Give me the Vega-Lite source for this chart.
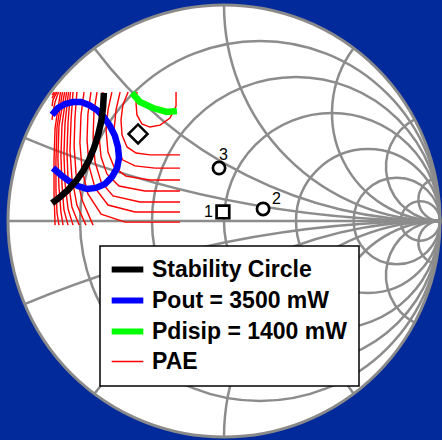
{
 "$schema": "https://vega.github.io/schema/vega-lite/v6.json",
 "width": 432, "height": 432,
 "autosize": {"type": "none"},
 "padding": {"left": 8, "top": 5, "right": 2, "bottom": 3},
 "background": "#032a9b",
 "config": {"view": {"stroke": null}},
 "datasets": {
  "outer": [{"x": 0, "y": 0, "R": 1, "t1": 0, "t2": 360}],
  "grid": [
   {"x": 0.1667, "y": 0, "R": 0.8333, "t1": 0, "t2": 360},
   {"x": 0.3333, "y": 0, "R": 0.6667, "t1": 0, "t2": 360},
   {"x": 0.5, "y": 0, "R": 0.5, "t1": 0, "t2": 360},
   {"x": 0.6667, "y": 0, "R": 0.3333, "t1": 0, "t2": 360},
   {"x": 0.8, "y": 0, "R": 0.2, "t1": 0, "t2": 360},
   {"x": 0.9091, "y": 0, "R": 0.0909, "t1": 0, "t2": 360},
   {"x": 1, "y": 5, "R": 5, "t1": 180, "t2": 202.62},
   {"x": 1, "y": 2, "R": 2, "t1": 180, "t2": 233.13},
   {"x": 1, "y": 1, "R": 1, "t1": 180, "t2": 270},
   {"x": 1, "y": 0.5, "R": 0.5, "t1": 180, "t2": 306.87},
   {"x": 1, "y": 0.25, "R": 0.25, "t1": 180, "t2": 331.93},
   {"x": 1, "y": 0.1, "R": 0.1, "t1": 180, "t2": 348.58},
   {"x": 1, "y": -5, "R": 5, "t1": 337.38, "t2": 360},
   {"x": 1, "y": -2, "R": 2, "t1": 306.87, "t2": 360},
   {"x": 1, "y": -1, "R": 1, "t1": 270, "t2": 360},
   {"x": 1, "y": -0.5, "R": 0.5, "t1": 233.13, "t2": 360},
   {"x": 1, "y": -0.25, "R": 0.25, "t1": 208.07, "t2": 360},
   {"x": 1, "y": -0.1, "R": 0.1, "t1": 191.42, "t2": 360}
  ],
  "axisline": [{"x": -1, "y": 0}, {"x": 1, "y": 0}],
  "pae": [
   {"id": "a", "series": "PAE", "x": -0.222, "y": 0.597}, {"id": "a", "series": "PAE", "x": -0.222, "y": 0.532}, {"id": "a", "series": "PAE", "x": -0.25, "y": 0.477}, {"id": "a", "series": "PAE", "x": -0.296, "y": 0.444}, {"id": "a", "series": "PAE", "x": -0.343, "y": 0.435}, {"id": "a", "series": "PAE", "x": -0.38, "y": 0.449}, {"id": "a", "series": "PAE", "x": -0.403, "y": 0.491}, {"id": "a", "series": "PAE", "x": -0.407, "y": 0.542}, {"id": "a", "series": "PAE", "x": -0.403, "y": 0.597},
   {"id": "b", "series": "PAE", "x": -0.444, "y": 0.597}, {"id": "b", "series": "PAE", "x": -0.468, "y": 0.537}, {"id": "b", "series": "PAE", "x": -0.477, "y": 0.468}, {"id": "b", "series": "PAE", "x": -0.472, "y": 0.398}, {"id": "b", "series": "PAE", "x": -0.449, "y": 0.343}, {"id": "b", "series": "PAE", "x": -0.407, "y": 0.315}, {"id": "b", "series": "PAE", "x": -0.343, "y": 0.306}, {"id": "b", "series": "PAE", "x": -0.273, "y": 0.306}, {"id": "b", "series": "PAE", "x": -0.204, "y": 0.306},
   {"id": "g1", "series": "PAE", "x": -0.481, "y": 0.597}, {"id": "g1", "series": "PAE", "x": -0.5, "y": 0.514}, {"id": "g1", "series": "PAE", "x": -0.509, "y": 0.421}, {"id": "g1", "series": "PAE", "x": -0.5, "y": 0.338}, {"id": "g1", "series": "PAE", "x": -0.468, "y": 0.282}, {"id": "g1", "series": "PAE", "x": -0.412, "y": 0.255}, {"id": "g1", "series": "PAE", "x": -0.319, "y": 0.245}, {"id": "g1", "series": "PAE", "x": -0.204, "y": 0.245},
   {"id": "g2", "series": "PAE", "x": -0.519, "y": 0.597}, {"id": "g2", "series": "PAE", "x": -0.537, "y": 0.514}, {"id": "g2", "series": "PAE", "x": -0.546, "y": 0.421}, {"id": "g2", "series": "PAE", "x": -0.537, "y": 0.319}, {"id": "g2", "series": "PAE", "x": -0.509, "y": 0.25}, {"id": "g2", "series": "PAE", "x": -0.454, "y": 0.208}, {"id": "g2", "series": "PAE", "x": -0.343, "y": 0.19}, {"id": "g2", "series": "PAE", "x": -0.204, "y": 0.19},
   {"id": "g3", "series": "PAE", "x": -0.56, "y": 0.597}, {"id": "g3", "series": "PAE", "x": -0.574, "y": 0.505}, {"id": "g3", "series": "PAE", "x": -0.579, "y": 0.398}, {"id": "g3", "series": "PAE", "x": -0.569, "y": 0.296}, {"id": "g3", "series": "PAE", "x": -0.542, "y": 0.218}, {"id": "g3", "series": "PAE", "x": -0.486, "y": 0.162}, {"id": "g3", "series": "PAE", "x": -0.366, "y": 0.139}, {"id": "g3", "series": "PAE", "x": -0.204, "y": 0.139},
   {"id": "g4", "series": "PAE", "x": -0.588, "y": 0.597}, {"id": "g4", "series": "PAE", "x": -0.602, "y": 0.505}, {"id": "g4", "series": "PAE", "x": -0.606, "y": 0.384}, {"id": "g4", "series": "PAE", "x": -0.597, "y": 0.273}, {"id": "g4", "series": "PAE", "x": -0.569, "y": 0.181}, {"id": "g4", "series": "PAE", "x": -0.514, "y": 0.116}, {"id": "g4", "series": "PAE", "x": -0.389, "y": 0.088}, {"id": "g4", "series": "PAE", "x": -0.204, "y": 0.088},
   {"id": "g5", "series": "PAE", "x": -0.616, "y": 0.597}, {"id": "g5", "series": "PAE", "x": -0.63, "y": 0.495}, {"id": "g5", "series": "PAE", "x": -0.634, "y": 0.375}, {"id": "g5", "series": "PAE", "x": -0.625, "y": 0.255}, {"id": "g5", "series": "PAE", "x": -0.597, "y": 0.153}, {"id": "g5", "series": "PAE", "x": -0.537, "y": 0.074}, {"id": "g5", "series": "PAE", "x": -0.412, "y": 0.042}, {"id": "g5", "series": "PAE", "x": -0.204, "y": 0.042},
   {"id": "g6", "series": "PAE", "x": -0.648, "y": 0.597}, {"id": "g6", "series": "PAE", "x": -0.662, "y": 0.491}, {"id": "g6", "series": "PAE", "x": -0.667, "y": 0.361}, {"id": "g6", "series": "PAE", "x": -0.657, "y": 0.236}, {"id": "g6", "series": "PAE", "x": -0.63, "y": 0.125}, {"id": "g6", "series": "PAE", "x": -0.569, "y": 0.032}, {"id": "g6", "series": "PAE", "x": -0.458, "y": -0.005}, {"id": "g6", "series": "PAE", "x": -0.204, "y": -0.005},
   {"id": "d1", "series": "PAE", "x": -0.681, "y": 0.597}, {"id": "d1", "series": "PAE", "x": -0.69, "y": 0.477}, {"id": "d1", "series": "PAE", "x": -0.694, "y": 0.347}, {"id": "d1", "series": "PAE", "x": -0.685, "y": 0.218}, {"id": "d1", "series": "PAE", "x": -0.657, "y": 0.097}, {"id": "d1", "series": "PAE", "x": -0.606, "y": -0.019},
   {"id": "d2", "series": "PAE", "x": -0.699, "y": 0.597}, {"id": "d2", "series": "PAE", "x": -0.708, "y": 0.468}, {"id": "d2", "series": "PAE", "x": -0.713, "y": 0.329}, {"id": "d2", "series": "PAE", "x": -0.704, "y": 0.199}, {"id": "d2", "series": "PAE", "x": -0.681, "y": 0.074}, {"id": "d2", "series": "PAE", "x": -0.639, "y": -0.019},
   {"id": "d3", "series": "PAE", "x": -0.711, "y": 0.597}, {"id": "d3", "series": "PAE", "x": -0.722, "y": 0.458}, {"id": "d3", "series": "PAE", "x": -0.727, "y": 0.319}, {"id": "d3", "series": "PAE", "x": -0.722, "y": 0.19}, {"id": "d3", "series": "PAE", "x": -0.704, "y": 0.065}, {"id": "d3", "series": "PAE", "x": -0.671, "y": -0.019},
   {"id": "d4", "series": "PAE", "x": -0.72, "y": 0.597}, {"id": "d4", "series": "PAE", "x": -0.736, "y": 0.454}, {"id": "d4", "series": "PAE", "x": -0.741, "y": 0.31}, {"id": "d4", "series": "PAE", "x": -0.736, "y": 0.176}, {"id": "d4", "series": "PAE", "x": -0.722, "y": 0.056}, {"id": "d4", "series": "PAE", "x": -0.699, "y": -0.019},
   {"id": "d5", "series": "PAE", "x": -0.729, "y": 0.597}, {"id": "d5", "series": "PAE", "x": -0.75, "y": 0.444}, {"id": "d5", "series": "PAE", "x": -0.755, "y": 0.301}, {"id": "d5", "series": "PAE", "x": -0.75, "y": 0.167}, {"id": "d5", "series": "PAE", "x": -0.741, "y": 0.051}, {"id": "d5", "series": "PAE", "x": -0.722, "y": -0.019},
   {"id": "d6", "series": "PAE", "x": -0.738, "y": 0.597}, {"id": "d6", "series": "PAE", "x": -0.764, "y": 0.44}, {"id": "d6", "series": "PAE", "x": -0.769, "y": 0.292}, {"id": "d6", "series": "PAE", "x": -0.764, "y": 0.157}, {"id": "d6", "series": "PAE", "x": -0.755, "y": 0.042}, {"id": "d6", "series": "PAE", "x": -0.745, "y": -0.019},
   {"id": "d7", "series": "PAE", "x": -0.748, "y": 0.597}, {"id": "d7", "series": "PAE", "x": -0.773, "y": 0.435}, {"id": "d7", "series": "PAE", "x": -0.778, "y": 0.282}, {"id": "d7", "series": "PAE", "x": -0.778, "y": 0.144}, {"id": "d7", "series": "PAE", "x": -0.773, "y": 0.037}, {"id": "d7", "series": "PAE", "x": -0.764, "y": -0.019},
   {"id": "d8", "series": "PAE", "x": -0.757, "y": 0.597}, {"id": "d8", "series": "PAE", "x": -0.782, "y": 0.431}, {"id": "d8", "series": "PAE", "x": -0.787, "y": 0.282}, {"id": "d8", "series": "PAE", "x": -0.787, "y": 0.134}, {"id": "d8", "series": "PAE", "x": -0.782, "y": -0.019},
   {"id": "d9", "series": "PAE", "x": -0.766, "y": 0.597}, {"id": "d9", "series": "PAE", "x": -0.782, "y": 0.551}, {"id": "d9", "series": "PAE", "x": -0.792, "y": 0.505}, {"id": "d9", "series": "PAE", "x": -0.796, "y": 0.468},
   {"id": "e1", "series": "PAE", "x": -0.773, "y": 0.597}, {"id": "e1", "series": "PAE", "x": -0.792, "y": 0.56}, {"id": "e1", "series": "PAE", "x": -0.796, "y": 0.532},
   {"id": "e2", "series": "PAE", "x": -0.78, "y": 0.597}, {"id": "e2", "series": "PAE", "x": -0.796, "y": 0.569},
   {"id": "e3", "series": "PAE", "x": -0.787, "y": 0.597}, {"id": "e3", "series": "PAE", "x": -0.796, "y": 0.583}
  ],
  "pout": [
   {"series": "Pout = 3500 mW", "x": -0.796, "y": 0.491}, {"series": "Pout = 3500 mW", "x": -0.769, "y": 0.523}, {"series": "Pout = 3500 mW", "x": -0.736, "y": 0.542}, {"series": "Pout = 3500 mW", "x": -0.699, "y": 0.551}, {"series": "Pout = 3500 mW", "x": -0.662, "y": 0.551}, {"series": "Pout = 3500 mW", "x": -0.625, "y": 0.537}, {"series": "Pout = 3500 mW", "x": -0.588, "y": 0.514}, {"series": "Pout = 3500 mW", "x": -0.556, "y": 0.481}, {"series": "Pout = 3500 mW", "x": -0.528, "y": 0.44}, {"series": "Pout = 3500 mW", "x": -0.505, "y": 0.394}, {"series": "Pout = 3500 mW", "x": -0.491, "y": 0.343}, {"series": "Pout = 3500 mW", "x": -0.486, "y": 0.292}, {"series": "Pout = 3500 mW", "x": -0.495, "y": 0.245}, {"series": "Pout = 3500 mW", "x": -0.519, "y": 0.204}, {"series": "Pout = 3500 mW", "x": -0.551, "y": 0.171}, {"series": "Pout = 3500 mW", "x": -0.593, "y": 0.153}, {"series": "Pout = 3500 mW", "x": -0.634, "y": 0.148}, {"series": "Pout = 3500 mW", "x": -0.676, "y": 0.162}, {"series": "Pout = 3500 mW", "x": -0.718, "y": 0.185}, {"series": "Pout = 3500 mW", "x": -0.755, "y": 0.213}, {"series": "Pout = 3500 mW", "x": -0.792, "y": 0.245}
  ],
  "stab": [
   {"series": "Stability Circle", "x": -0.796, "y": 0.083}, {"series": "Stability Circle", "x": -0.759, "y": 0.111}, {"series": "Stability Circle", "x": -0.722, "y": 0.144}, {"series": "Stability Circle", "x": -0.685, "y": 0.185}, {"series": "Stability Circle", "x": -0.653, "y": 0.231}, {"series": "Stability Circle", "x": -0.625, "y": 0.282}, {"series": "Stability Circle", "x": -0.602, "y": 0.338}, {"series": "Stability Circle", "x": -0.583, "y": 0.398}, {"series": "Stability Circle", "x": -0.569, "y": 0.458}, {"series": "Stability Circle", "x": -0.56, "y": 0.523}, {"series": "Stability Circle", "x": -0.556, "y": 0.593}
  ],
  "pdis": [
   {"series": "Pdisip = 1400 mW", "x": -0.426, "y": 0.593}, {"series": "Pdisip = 1400 mW", "x": -0.389, "y": 0.551}, {"series": "Pdisip = 1400 mW", "x": -0.329, "y": 0.523}, {"series": "Pdisip = 1400 mW", "x": -0.264, "y": 0.505}, {"series": "Pdisip = 1400 mW", "x": -0.218, "y": 0.509}
  ],
  "square": [{"x": -0.005, "y": 0.042}],
  "circles": [{"x": 0.181, "y": 0.056}, {"x": -0.023, "y": 0.245}],
  "diamond": [{"x": -0.398, "y": 0.403}],
  "labels": [{"x": -0.072, "y": 0.042, "t": "1"}, {"x": 0.243, "y": 0.102, "t": "2"}, {"x": -0.002, "y": 0.306, "t": "3"}]
 },
 "encoding": {
  "x": {"field": "x", "type": "quantitative", "scale": {"domain": [-1, 1], "nice": false, "zero": false}, "axis": null},
  "y": {"field": "y", "type": "quantitative", "scale": {"domain": [-1, 1], "nice": false, "zero": false}, "axis": null}
 },
 "layer": [
  {
   "data": {"name": "outer"},
   "mark": {"type": "arc", "fill": "white", "stroke": "#8a8a8a", "strokeWidth": 3},
   "encoding": {
    "theta": {"field": "t1", "type": "quantitative", "stack": null, "scale": {"domain": [0, 360], "range": [0, 6.283185307179586]}},
    "theta2": {"field": "t2"},
    "radius": {"field": "R", "type": "quantitative", "scale": {"type": "linear", "domain": [0, 1], "range": [0, 216], "zero": true}}
   }
  },
  {
   "data": {"name": "grid"},
   "mark": {"type": "arc", "filled": false, "stroke": "#8c8c8c", "strokeWidth": 2.5},
   "encoding": {
    "theta": {"field": "t1", "type": "quantitative", "stack": null, "scale": {"domain": [0, 360], "range": [0, 6.283185307179586]}},
    "theta2": {"field": "t2"},
    "radius": {"field": "R", "type": "quantitative", "scale": {"type": "linear", "domain": [0, 1], "range": [0, 216], "zero": true}},
    "radius2": {"field": "R"}
   }
  },
  {
   "data": {"name": "axisline"},
   "mark": {"type": "line", "stroke": "#8c8c8c", "strokeWidth": 2.5},
   "encoding": {}
  },
  {
   "data": {"name": "pae"},
   "mark": {"type": "line", "strokeWidth": 1.4},
   "encoding": {
    "detail": {"field": "id"},
    "order": {"value": null},
    "color": {"field": "series", "type": "nominal", "scale": {"domain": ["Stability Circle", "Pout = 3500 mW", "Pdisip = 1400 mW", "PAE"], "range": ["#000000", "#0000ff", "#00ff00", "#ff0000"]},
     "legend": {"orient": "none", "legendX": 92, "legendY": 241, "title": null, "symbolType": "stroke", "symbolSize": 1000, "symbolOffset": 4, "symbolStrokeWidth": 6, "labelFont": "Liberation Sans", "labelFontWeight": "bold", "labelFontSize": 23, "labelColor": "black", "labelOffset": 13, "labelLimit": 400, "padding": 12, "rowPadding": 6, "fillColor": "white", "strokeColor": "black",
      "encode": {"symbols": {"update": {"strokeWidth": {"signal": "datum.value === 'PAE' ? 1.5 : 6"}, "opacity": {"value": 1}}}, "legend": {"update": {"strokeWidth": {"value": 1.5}}}}}}
   }
  },
  {
   "data": {"name": "pout"},
   "mark": {"type": "line", "strokeWidth": 6.5},
   "encoding": {
    "order": {"value": null},
    "color": {"field": "series", "type": "nominal", "scale": {"domain": ["Stability Circle", "Pout = 3500 mW", "Pdisip = 1400 mW", "PAE"], "range": ["#000000", "#0000ff", "#00ff00", "#ff0000"]}}
   }
  },
  {
   "data": {"name": "stab"},
   "mark": {"type": "line", "strokeWidth": 6.5},
   "encoding": {
    "order": {"value": null},
    "color": {"field": "series", "type": "nominal", "scale": {"domain": ["Stability Circle", "Pout = 3500 mW", "Pdisip = 1400 mW", "PAE"], "range": ["#000000", "#0000ff", "#00ff00", "#ff0000"]}}
   }
  },
  {
   "data": {"name": "pdis"},
   "mark": {"type": "line", "strokeWidth": 6.5},
   "encoding": {
    "order": {"value": null},
    "color": {"field": "series", "type": "nominal", "scale": {"domain": ["Stability Circle", "Pout = 3500 mW", "Pdisip = 1400 mW", "PAE"], "range": ["#000000", "#0000ff", "#00ff00", "#ff0000"]}}
   }
  },
  {
   "data": {"name": "square"},
   "mark": {"type": "point", "shape": "square", "size": 160, "filled": false, "fill": "white", "stroke": "black", "strokeWidth": 2.7, "opacity": 1},
   "encoding": {}
  },
  {
   "data": {"name": "circles"},
   "mark": {"type": "point", "shape": "circle", "size": 150, "filled": false, "fill": "white", "stroke": "black", "strokeWidth": 2.7, "opacity": 1},
   "encoding": {}
  },
  {
   "data": {"name": "diamond"},
   "mark": {"type": "point", "shape": "diamond", "size": 361, "filled": false, "stroke": "black", "strokeWidth": 2.5, "opacity": 1},
   "encoding": {}
  },
  {
   "data": {"name": "labels"},
   "mark": {"type": "text", "font": "Liberation Sans", "fontSize": 16, "color": "black", "align": "center", "baseline": "middle"},
   "encoding": {"text": {"field": "t"}}
  }
 ]
}
